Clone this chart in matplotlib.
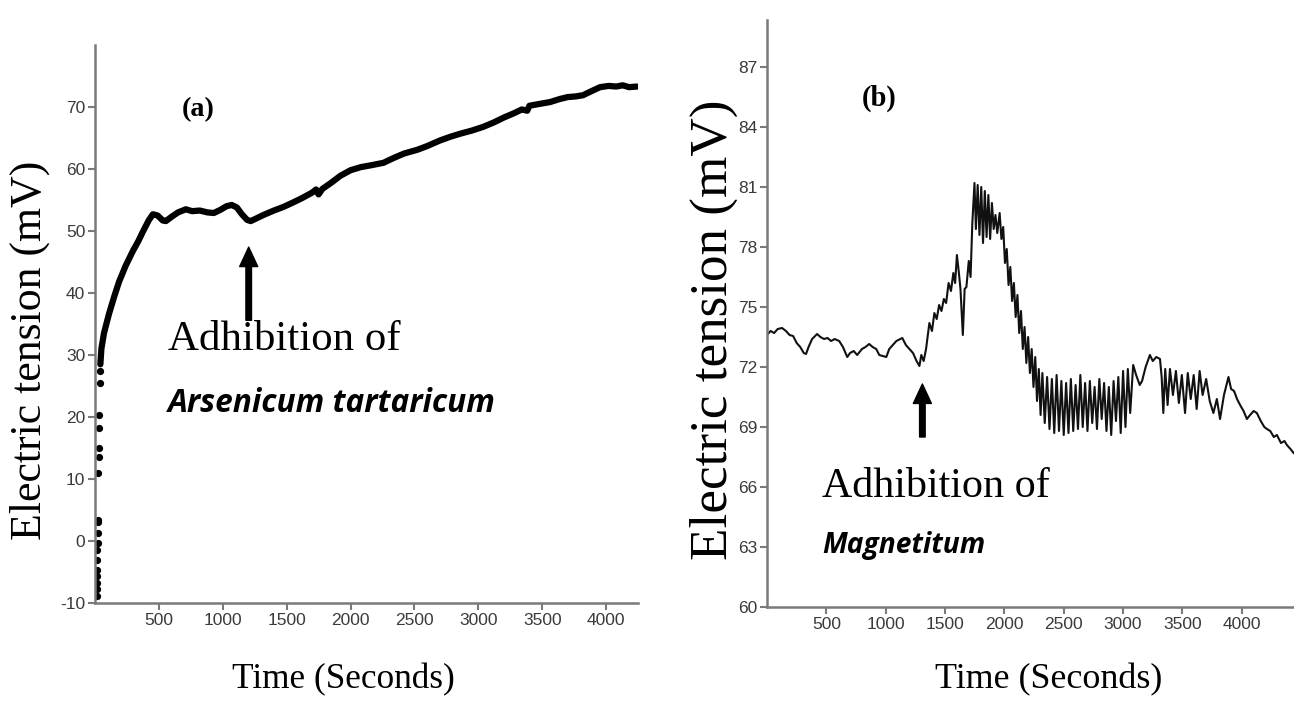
import matplotlib
matplotlib.use("Agg")
import matplotlib.pyplot as plt

plt.rcParams["axes.unicode_minus"] = False

# ---------------- data ----------------
# Panel (a): scattered start-up readings
a_dot_t = [16, 16, 17, 17, 18, 19, 19, 20, 21, 22, 23, 27, 28, 29, 30, 31, 36, 40]
a_dot_v = [-8.8, -7.7, -6.7, -5.6, -4.6, -3.0, -1.4, -0.3, 1.3, 3.0, 3.4,
           11.0, 13.6, 15.0, 18.2, 20.3, 25.5, 27.5]
# Panel (a): continuous trace
a_t = [42, 50, 70, 109, 150, 188, 240, 297, 340, 375, 420, 453, 490, 530, 555,
       600, 650, 711, 760, 820, 880, 930, 980, 1030, 1070, 1110, 1150, 1190,
       1219, 1260, 1320, 1400, 1477, 1550, 1620, 1700, 1730, 1750, 1780, 1850,
       1920, 2000, 2080, 2160, 2258, 2340, 2420, 2523, 2600, 2700, 2781, 2860,
       2950, 3039, 3120, 3200, 3280, 3340, 3383, 3400, 3480, 3562, 3640, 3700,
       3760, 3820, 3880, 3953, 4020, 4080, 4130, 4180, 4242]
a_v = [28.5, 31.0, 33.5, 36.6, 39.4, 41.8, 44.4, 46.8, 48.4, 49.9, 51.7, 52.7,
       52.5, 51.7, 51.6, 52.3, 53.0, 53.5, 53.2, 53.3, 53.0, 52.9, 53.4, 54.0,
       54.2, 53.8, 52.7, 51.8, 51.6, 52.0, 52.6, 53.3, 53.9, 54.6, 55.3, 56.2,
       56.7, 55.9, 56.8, 57.8, 58.9, 59.8, 60.3, 60.6, 61.0, 61.8, 62.5, 63.1,
       63.7, 64.6, 65.2, 65.7, 66.2, 66.8, 67.5, 68.3, 69.0, 69.6, 69.4, 70.2,
       70.5, 70.8, 71.3, 71.6, 71.7, 71.9, 72.5, 73.2, 73.4, 73.3, 73.5, 73.2,
       73.3]

# Panel (b): trace
b_t = [0, 30, 60, 90, 127, 160, 190, 220, 250, 280, 310, 329, 350, 380, 422,
       450, 480, 510, 540, 570, 608, 640, 676, 700, 730, 760, 800, 830, 861,
       890, 920, 946, 975, 1005, 1030, 1060, 1090, 1140, 1170, 1200, 1230,
       1260, 1284, 1300, 1320, 1340, 1368,
       1390, 1410, 1430, 1450, 1470, 1490, 1509, 1530, 1550, 1570, 1585, 1600,
       1615, 1630, 1650, 1665, 1680, 1700, 1715, 1730, 1748,
       1760, 1775, 1790, 1805, 1820, 1835, 1850, 1865, 1880, 1895, 1910, 1925,
       1940, 1960,
       1975, 1990, 2005, 2020, 2035, 2050, 2065, 2080, 2095, 2110, 2125, 2140,
       2155, 2170, 2185, 2200, 2215, 2230, 2245, 2260, 2275, 2290, 2305,
       2320, 2340, 2360, 2380, 2400, 2420, 2440, 2460, 2480, 2500, 2520, 2540,
       2560, 2580, 2600, 2620, 2640, 2660, 2680, 2700, 2720, 2740, 2760, 2780,
       2800, 2820, 2840, 2860, 2880, 2900, 2920, 2940, 2960, 2980, 3000, 3020,
       3040, 3060, 3085,
       3110, 3140, 3160, 3190, 3226, 3250, 3280, 3311, 3325, 3339, 3355, 3375,
       3395, 3420, 3445, 3470, 3495, 3522, 3545, 3570, 3595, 3620, 3645, 3670,
       3700, 3730, 3761, 3790, 3817, 3850, 3888, 3910, 3935, 3960, 3986, 4015,
       4043, 4070, 4100, 4127, 4160, 4190, 4212, 4240, 4270, 4296, 4330, 4360,
       4380, 4410, 4437]
b_v = [73.6, 73.8, 73.7, 73.9, 73.95, 73.8, 73.6, 73.55, 73.2, 73.0, 72.7,
       72.65, 73.0, 73.4, 73.65, 73.5, 73.4, 73.45, 73.3, 73.4, 73.3, 73.0,
       72.5, 72.7, 72.8, 72.6, 72.9, 73.0, 73.15, 73.0, 72.9, 72.6, 72.55,
       72.5, 72.9, 73.1, 73.3, 73.45, 73.1, 72.9, 72.7, 72.3, 72.05, 72.6,
       72.3, 72.9, 74.2,
       73.8, 74.7, 74.4, 75.1, 74.8, 75.4, 75.2, 76.2, 75.8, 76.7, 76.2, 77.6,
       76.8, 75.9, 73.6, 75.9, 76.0, 77.3, 76.5, 79.2, 81.2,
       78.9, 81.1, 78.6, 81.0, 78.2, 80.8, 78.5, 80.6, 78.4, 80.2, 78.9, 79.6,
       78.7, 79.7,
       78.4, 79.0, 77.2, 77.9, 76.1, 77.0, 75.3, 76.2, 74.5, 75.6, 73.7, 74.8,
       72.9, 74.0, 72.2, 73.5, 71.7, 72.9, 71.0, 72.5, 70.3, 71.9, 69.6,
       71.7, 69.2, 71.5, 68.9, 71.4, 68.7, 71.6, 68.8, 71.3, 68.6, 71.2, 68.7,
       71.4, 68.8, 71.1, 68.9, 71.6, 69.0, 71.2, 68.8, 71.3, 69.2, 71.0, 68.9,
       71.4, 69.4, 71.2, 68.8, 71.0, 68.6, 71.3, 69.3, 71.5, 68.7, 71.8, 69.0,
       71.9, 69.7, 72.1,
       71.6, 71.1, 71.3, 72.0, 72.6, 72.3, 72.5, 72.4, 71.5, 69.7, 71.9, 70.1,
       71.9, 70.6, 71.8, 70.2, 71.6, 69.7, 71.7, 70.4, 71.6, 69.9, 71.8, 70.6,
       71.4, 70.3, 69.7, 70.4, 69.4, 70.6, 71.5, 70.9, 70.8, 70.4, 70.1, 69.8,
       69.4, 69.6, 69.8, 69.7, 69.3, 69.0, 68.9, 68.8, 68.5, 68.6, 68.2, 68.3,
       68.1, 67.9, 67.7]

a_xticks = [500, 1000, 1500, 2000, 2500, 3000, 3500, 4000]
a_yticks = [-10, 0, 10, 20, 30, 40, 50, 60, 70]
b_xticks = [500, 1000, 1500, 2000, 2500, 3000, 3500, 4000]
b_yticks = [60, 63, 66, 69, 72, 75, 78, 81, 84, 87]

a_arrow_t, a_arrow_tail, a_arrow_tip = 1203, 35.6, 47.4
b_arrow_t, b_arrow_tail, b_arrow_tip = 1309, 68.5, 71.15

# ---------------- figure ----------------
W, H = 1294, 707
fig = plt.figure(figsize=(W / 100, H / 100), dpi=100)

axa = fig.add_axes([95 / W, 1 - 603 / H, (638 - 95) / W, (603 - 45) / H])
axb = fig.add_axes([767 / W, 1 - 607 / H, (1294 - 767) / W, (607 - 20) / H])

tick_font = ["Liberation Sans Narrow", "Liberation Sans"]
spine_col = "#7a7a7a"
for ax in (axa, axb):
    for s in ("top", "right"):
        ax.spines[s].set_visible(False)
    for s in ("left", "bottom"):
        ax.spines[s].set_color(spine_col)
        ax.spines[s].set_linewidth(1.8)
    ax.tick_params(direction="out", length=5, width=1.5, color=spine_col,
                   labelsize=12.5, labelcolor="#3a3a3a", pad=2)

axa.set_xlim(0, 4250)
axa.set_ylim(-10, 80)
axa.set_xticks(a_xticks)
axa.set_yticks(a_yticks)
axb.set_xlim(0, 4440)
axb.set_ylim(60, 89.35)
axb.set_xticks(b_xticks)
axb.set_yticks(b_yticks)
for ax in (axa, axb):
    for lab in ax.get_xticklabels() + ax.get_yticklabels():
        lab.set_family(tick_font)

axa.plot(a_t, a_v, color="black", lw=4.5, solid_capstyle="round",
         solid_joinstyle="round")
axa.plot(a_dot_t, a_dot_v, "o", color="black", ms=4.2, mec="black")
axb.plot(b_t, b_v, color="#111111", lw=1.5, solid_joinstyle="round")

arrow_kw = dict(facecolor="black", edgecolor="black", width=4.0,
                headwidth=13, headlength=14, shrink=0)
axa.annotate("", xy=(a_arrow_t, a_arrow_tip), xytext=(a_arrow_t, a_arrow_tail),
             arrowprops=arrow_kw)
axb.annotate("", xy=(b_arrow_t, b_arrow_tip), xytext=(b_arrow_t, b_arrow_tail),
             arrowprops=arrow_kw)

serif = ["Liberation Serif", "DejaVu Serif"]
sans_bi = ["Open Sans", "DejaVu Sans"]

texts = []


def add_text(s, x0, x1, yc, rotation=0, **kw):
    if rotation == 0:
        t = fig.text(x0 / W, 1 - yc / H, s, ha="left", va="center", **kw)
        texts.append((t, x1 - x0, "w"))
    else:
        # x0 = center x, x1/yc = y span (top, bottom)
        t = fig.text(x0 / W, 1 - (x1 + yc) / 2 / H, s, ha="center",
                     va="center", rotation=90, **kw)
        texts.append((t, yc - x1, "h"))
    return t


add_text("(a)", 182, 215, 110, family=serif, weight="bold", fontsize=16)
add_text("(b)", 862, 897, 98, family=serif, weight="bold", fontsize=16)
add_text("Adhibition of", 168, 400, 340, family=serif, fontsize=30)
add_text("Arsenicum tartaricum", 168, 495, 403, family=sans_bi,
         weight="bold", style="italic", fontsize=20)
add_text("Adhibition of", 822, 1050, 487, family=serif, fontsize=30)
add_text("Magnetitum", 822, 985, 546, family=sans_bi, weight="bold",
         style="italic", fontsize=20)
add_text("Time (Seconds)", 232, 455, 680, family=serif, fontsize=25)
add_text("Time (Seconds)", 935, 1163, 680, family=serif, fontsize=25)
add_text("Electric tension (mV)", 30, 160, 540, rotation=90, family=serif,
         fontsize=28)
add_text("Electric tension (mV)", 714, 100, 560, rotation=90, family=serif,
         fontsize=30)

fig.canvas.draw()
r = fig.canvas.get_renderer()
for t, target, dim in texts:
    bb = t.get_window_extent(r)
    cur = bb.width if dim == "w" else bb.height
    t.set_fontsize(t.get_fontsize() * target / cur)

fig.savefig("out.png", dpi=100, facecolor="white")
